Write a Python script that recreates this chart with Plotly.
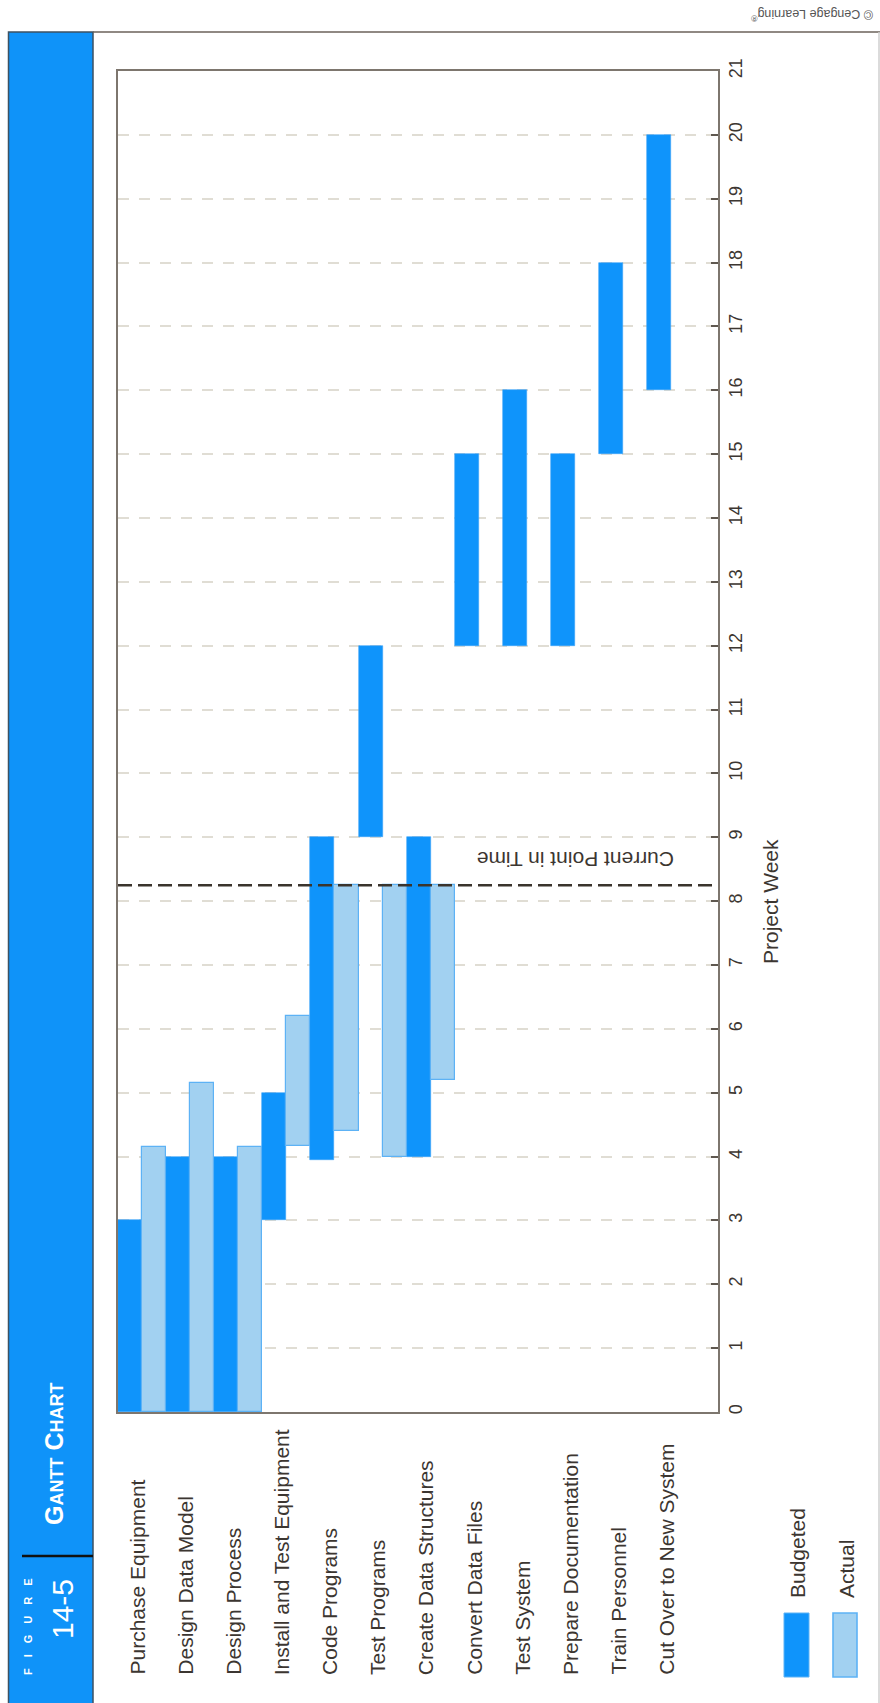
import plotly.graph_objects as go

# ---------------- data ----------------
categories = ["Purchase Equipment", "Design Data Model", "Design Process",
              "Install and Test Equipment", "Code Programs", "Test Programs",
              "Create Data Structures", "Convert Data Files", "Test System",
              "Prepare Documentation", "Train Personnel", "Cut Over to New System"]
budget_start = [0, 0, 0, 3, 3.95, 9, 4, 12, 12, 12, 15, 16]
budget_end = [3, 4, 4, 5, 9, 12, 9, 15, 16, 15, 18, 20]
actual_start = [0, 0, 0, 4.17, 4.4, 4, 5.2, None, None, None, None, None]
actual_end = [4.15, 5.15, 4.15, 6.2, 8.25, 8.25, 8.25, None, None, None, None, None]
current_week = 8.25
week_ticks = list(range(0, 22))
legend_names = ["Budgeted", "Actual"]

# ---------------- geometry / style ----------------
W, H = 880, 1703
L, R, T, B = 118, 718, 71, 1412
FONT = "Liberation Sans, Arial, Helvetica, sans-serif"
TXT = "#3c3631"
DARK = "#0f94fb"
LIGHT = "#a2d1f1"
LIGHT_LINE = "#5db2f5"


def px(x):
    return (x - L) / (R - L)


def py(y):
    return (B - y) / (B - T)


budget_len = [e - s for s, e in zip(budget_start, budget_end)]
actual_len = [(e - s) if s is not None else None for s, e in zip(actual_start, actual_end)]

fig = go.Figure()
fig.add_trace(go.Bar(name=legend_names[0], x=categories, y=budget_len, base=budget_start,
                     marker=dict(color=DARK, line=dict(color="#3aa3f8", width=0.6))))
fig.add_trace(go.Bar(name=legend_names[1], x=categories, y=actual_len, base=actual_start,
                     marker=dict(color=LIGHT, line=dict(color=LIGHT_LINE, width=1.2))))

cat_span = (R - L) / 48.1
fig.update_layout(
    width=W, height=H,
    margin=dict(l=L, r=W - R, t=T, b=H - B, pad=0),
    paper_bgcolor="white", plot_bgcolor="white",
    barmode="group", bargap=0, bargroupgap=0,
    showlegend=False,
    font=dict(family=FONT, color=TXT),
    xaxis=dict(range=[-0.5, -0.5 + cat_span], showticklabels=False, ticks="",
               showgrid=False, zeroline=False, showline=True, mirror=True,
               linecolor="#7d766e", linewidth=2),
    yaxis=dict(range=[0, 21], tickvals=week_ticks, side="right", tickangle=-90,
               ticks="inside", ticklen=7, tickwidth=2, tickcolor="#5f5850",
               tickfont=dict(size=18, color=TXT, family=FONT),
               showgrid=True, gridcolor="#e0ddd4", gridwidth=2, griddash="11px,10px",
               zeroline=False, showline=True, mirror=True,
               linecolor="#7d766e", linewidth=2),
)

shapes = []
# left blue band
shapes.append(dict(type="rect", xref="paper", yref="paper",
                   x0=px(8.5), x1=px(93), y0=py(1710), y1=py(32),
                   fillcolor="#0f93f9", line=dict(color="#3e5262", width=1.5), layer="above"))
# separator in band
shapes.append(dict(type="line", xref="paper", yref="paper",
                   x0=px(22), x1=px(93), y0=py(1556), y1=py(1556),
                   line=dict(color="#111111", width=2.5)))
# frame top line
shapes.append(dict(type="line", xref="paper", yref="paper",
                   x0=px(93), x1=px(880), y0=py(32), y1=py(32),
                   line=dict(color="#6b625a", width=1.5)))
# frame right line
shapes.append(dict(type="line", xref="paper", yref="paper",
                   x0=px(879), x1=px(879), y0=py(32), y1=py(1703),
                   line=dict(color="#cfcfcf", width=1.5)))
# current point in time line
shapes.append(dict(type="line", xref="paper", yref="y",
                   x0=0, x1=1, y0=current_week, y1=current_week,
                   line=dict(color="#3a342d", width=2.6, dash="14px,6px"), layer="above"))
# legend swatches
shapes.append(dict(type="rect", xref="paper", yref="paper",
                   x0=px(784), x1=px(809), y0=py(1677), y1=py(1613),
                   fillcolor=DARK, line=dict(color="#5db2f5", width=1)))
shapes.append(dict(type="rect", xref="paper", yref="paper",
                   x0=px(833), x1=px(857), y0=py(1677), y1=py(1613),
                   fillcolor=LIGHT, line=dict(color=LIGHT_LINE, width=1.6)))
fig.update_layout(shapes=shapes)

ann = []
# category labels (start-aligned at bottom)
for c in categories:
    ann.append(dict(x=c, xref="x", y=py(1677), yref="paper", text=c, showarrow=False,
                    textangle=-90, xanchor="center", yanchor="bottom", xshift=-5,
                    font=dict(size=21, color=TXT, family=FONT)))
# axis title
ann.append(dict(x=px(770), y=py(902), xref="paper", yref="paper", text="Project Week",
                showarrow=False, textangle=-90, xanchor="center", yanchor="middle",
                font=dict(size=21, color=TXT, family=FONT)))
# current point label
ann.append(dict(x=px(575.5), y=py(860), xref="paper", yref="paper", text="Current Point in Time",
                showarrow=False, textangle=180, xanchor="center", yanchor="middle",
                font=dict(size=21, color=TXT, family=FONT)))
# copyright
ann.append(dict(x=px(812), y=py(15), xref="paper", yref="paper",
                text="© Cengage Learning<sup>®</sup>",
                showarrow=False, textangle=180, xanchor="center", yanchor="middle",
                font=dict(size=12.5, color="#555555", family=FONT)))
# legend texts
ann.append(dict(x=px(797), y=py(1600), xref="paper", yref="paper", text=legend_names[0],
                showarrow=False, textangle=-90, xanchor="center", yanchor="bottom",
                font=dict(size=21, color=TXT, family=FONT)))
ann.append(dict(x=px(846), y=py(1600), xref="paper", yref="paper", text=legend_names[1],
                showarrow=False, textangle=-90, xanchor="center", yanchor="bottom",
                font=dict(size=21, color=TXT, family=FONT)))
# band texts
ann.append(dict(x=px(54), y=py(1454), xref="paper", yref="paper", text="Gantt Chart",
                showarrow=False, textangle=-90, xanchor="center", yanchor="middle",
                font=dict(size=25, color="white", family=FONT, weight="bold", variant="small-caps")))
ann.append(dict(x=px(28), y=py(1627), xref="paper", yref="paper",
                text="F\u2003I\u2003G\u2003U\u2003R\u2003E",
                showarrow=False, textangle=-90, xanchor="center", yanchor="middle",
                font=dict(size=11, color="white", family=FONT, weight="bold")))
ann.append(dict(x=px(62), y=py(1609), xref="paper", yref="paper", text="14-5",
                showarrow=False, textangle=-90, xanchor="center", yanchor="middle",
                font=dict(size=30, color="white", family=FONT)))
fig.update_layout(annotations=ann)

fig.write_html("out.html")
